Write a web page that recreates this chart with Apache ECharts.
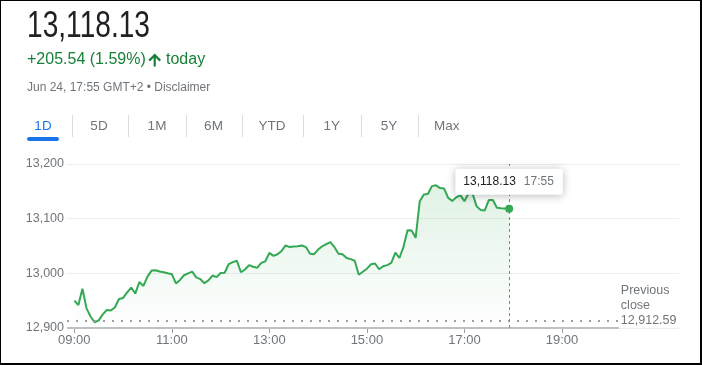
<!DOCTYPE html>
<html><head><meta charset="utf-8">
<script src="https://cdn.jsdelivr.net/npm/echarts@6/dist/echarts.min.js"></script>
<style>
html,body{margin:0;padding:0;background:#fff;}
#wrap{position:relative;width:702px;height:365px;}
#chart{position:absolute;left:0;top:0;width:702px;height:365px;}
#frame{position:absolute;left:0;top:0;width:702px;height:365px;box-sizing:border-box;border-style:solid;border-color:#000;border-width:1px 2px 2px 1px;pointer-events:none;}
</style></head><body>
<div id="wrap"><div id="chart"></div><div id="frame"></div></div>
<script>
// ---- data ----
const times = [
 '09:00','09:05','09:10','09:15','09:20','09:25','09:30','09:35','09:40','09:45','09:50','09:55',
 '10:00','10:05','10:10','10:15','10:20','10:25','10:30','10:35','10:40','10:45','10:50','10:55',
 '11:00','11:05','11:10','11:15','11:20','11:25','11:30','11:35','11:40','11:45','11:50','11:55',
 '12:00','12:05','12:10','12:15','12:20','12:25','12:30','12:35','12:40','12:45','12:50','12:55',
 '13:00','13:05','13:10','13:15','13:20','13:25','13:30','13:35','13:40','13:45','13:50','13:55',
 '14:00','14:05','14:10','14:15','14:20','14:25','14:30','14:35','14:40','14:45','14:50','14:55',
 '15:00','15:05','15:10','15:15','15:20','15:25','15:30','15:35','15:40','15:45','15:50','15:55',
 '16:00','16:05','16:10','16:15','16:20','16:25','16:30','16:35','16:40','16:45','16:50','16:55',
 '17:00','17:05','17:10','17:15','17:20','17:25','17:30','17:35','17:40','17:45','17:50','17:55'
];
const values = [
 12950,12942,12972,12936,12921,12910.5,12914,12925,12933,12932,12938,12953,
 12955,12965,12974,12963,12984,12977,12994,13005,13005.5,13003.5,13002,13000,
 12998.5,12981.5,12988,12996.5,13000,13003,12992.5,12989.5,12982,12987,12996,12993,
 13000.5,13001,13017,13020.5,13023,13002,13007,13015,13012,13010,13019,13022,
 13037.5,13032,13035,13041,13051,13048,13049,13049.5,13051,13048,13036,13035,
 13043.5,13049.5,13053.5,13057,13048,13036,13035,13028,13026,13023,12997.5,13003,
 13008.5,13016.5,13018,13007.5,13013,13015,13019,13038,13028,13048.5,13079,13078.5,
 13065,13132,13144,13145,13159.5,13161,13156,13155,13138,13132.5,13139,13143,
 13132,13146.5,13146,13122.5,13116,13115,13134,13134,13120,13119,13118.5,13118.13
];
const prevClose = 12912.59;
const yTicks = [12900, 13000, 13100, 13200];
const xTickLabels = ['09:00','11:00','13:00','15:00','17:00','19:00'];
const axisStart = '08:51', axisEnd = '20:10', gridEnd = '21:24';
const tabs = ['1D','5D','1M','6M','YTD','1Y','5Y','Max'];
const dateLine = 'Jun 24, 17:55 GMT+2 \u2022 Disclaimer';

// ---- helpers ----
const toMin = s => { const p = s.split(':'); return (+p[0]) * 60 + (+p[1]); };
const fmtTime = m => String(Math.floor(m / 60)).padStart(2, '0') + ':' + String(m % 60).padStart(2, '0');
const fmt2 = v => v.toLocaleString('en-US', {minimumFractionDigits: 2, maximumFractionDigits: 2});
const fmt0 = v => v.toLocaleString('en-US');

const lastVal = values[values.length - 1];
const lastTime = times[times.length - 1];
const change = lastVal - prevClose;
const pct = change / prevClose * 100;
const GREEN = '#34a853';
const GRAY = '#70757a';
const FONT = '"Liberation Sans", Arial, sans-serif';

const tabCenters = [43, 99, 157, 213.5, 272, 331.7, 389, 446.7];
const dividers = [72, 128, 186, 242, 303, 361, 418];

const graphics = [];
graphics.push({type:'text', x:27, y:27, scaleX:0.76, silent:true,
  style:{text: fmt2(lastVal), font:'37px ' + FONT, fill:'#202124', verticalAlign:'middle'}});
graphics.push({type:'text', x:27, y:60, silent:true,
  style:{text: '+' + fmt2(change) + ' (' + pct.toFixed(2) + '%)', font:'16px ' + FONT, fill:'#188038', verticalAlign:'middle'}});
graphics.push({type:'polygon', silent:true, shape:{points:[[154.7,53.5],[161,59.8],[159.4,61.4],[155.8,57.8],[155.8,66.5],[153.6,66.5],[153.6,57.8],[150,61.4],[148.4,59.8]]},
  style:{fill:'#188038'}});
graphics.push({type:'text', x:166, y:60, silent:true,
  style:{text:'today', font:'16px ' + FONT, fill:'#188038', verticalAlign:'middle'}});
graphics.push({type:'text', x:27, y:87.5, silent:true,
  style:{text: dateLine, font:'12px ' + FONT, fill:GRAY, verticalAlign:'middle'}});
tabs.forEach((t, i) => {
  graphics.push({type:'text', x:tabCenters[i], y:126.5, silent:true,
    style:{text:t, font:'13.5px ' + FONT, fill: i === 0 ? '#1a73e8' : GRAY, align:'center', verticalAlign:'middle'}});
});
dividers.forEach(x => {
  graphics.push({type:'line', silent:true, shape:{x1:x+0.5, y1:115, x2:x+0.5, y2:137}, style:{stroke:'#dadce0', lineWidth:1}});
});
graphics.push({type:'rect', silent:true, shape:{x:27, y:137, width:32, height:4, r:2}, style:{fill:'#1a73e8'}});

const chart = echarts.init(document.getElementById('chart'), null, {renderer:'canvas'});
chart.setOption({
  animation: false,
  graphic: graphics,
  grid: {left: 67, right: 23, top: 164, bottom: 37},
  xAxis: {
    type: 'value', min: toMin(axisStart), max: toMin(gridEnd),
    axisLine: {show: false},
    splitLine: {show: false},
    axisTick: {show: true, customValues: xTickLabels.map(toMin), length: 5, lineStyle: {color: '#9aa0a6', width: 1}},
    axisLabel: {customValues: xTickLabels.map(toMin), formatter: v => fmtTime(v), color: GRAY, fontSize: 13, fontFamily: FONT, margin: 6}
  },
  yAxis: {
    type: 'value', min: yTicks[0], max: yTicks[yTicks.length - 1], interval: 100,
    axisLine: {show: false}, axisTick: {show: false},
    splitLine: {lineStyle: {color: '#eceef0', width: 1}},
    axisLabel: {formatter: v => fmt0(v), color: GRAY, fontSize: 12.5, fontFamily: FONT, margin: 3}
  },
  series: [{
    type: 'line',
    data: times.map((t, i) => [toMin(t), values[i]]),
    symbol: 'none', showSymbol: false,
    lineStyle: {color: GREEN, width: 2},
    areaStyle: {color: new echarts.graphic.LinearGradient(0, 0, 0, 1, [
      {offset: 0, color: 'rgba(52,168,83,0.22)'},
      {offset: 1, color: 'rgba(52,168,83,0.0)'}
    ])},
    markLine: {
      silent: true, symbol: 'none', animation: false,
      data: [
        [{coord: [toMin(axisStart), yTicks[0]], lineStyle: {color: '#bdc1c6', width: 2, type: 'solid'}, label: {show: false}},
         {coord: [toMin(axisEnd), yTicks[0]]}],
        [{coord: [toMin(axisStart), prevClose], lineStyle: {color: '#9aa0a6', width: 2, type: [2, 7]}, label: {show: false}},
         {coord: [toMin(axisEnd), prevClose]}],
        {xAxis: toMin(lastTime), lineStyle: {color: '#80868b', width: 1, type: [3, 3]}, label: {show: false}}
      ]
    },
    markPoint: {
      silent: true, animation: false,
      symbol: 'circle', symbolSize: 8,
      itemStyle: {color: GREEN},
      data: [{coord: [toMin(lastTime), lastVal]}],
      label: {
        show: true, position: 'top', distance: 10,
        formatter: '{v|' + fmt2(lastVal) + '}{t|' + lastTime + '}',
        backgroundColor: '#fff', borderRadius: 3, padding: [7, 9, 7, 8],
        shadowBlur: 8, shadowColor: 'rgba(0,0,0,0.28)', shadowOffsetY: 1,
        rich: {
          v: {color: '#202124', fontSize: 12, fontFamily: FONT},
          t: {color: GRAY, fontSize: 12, fontFamily: FONT, padding: [0, 0, 0, 8]}
        }
      }
    }
  }]
});

// "Previous close" label anchored to the end of the previous-close line
const endPx = chart.convertToPixel({seriesIndex: 0}, [toMin(axisEnd), prevClose]);
graphics.push({type:'text', x: endPx[0] + 2, y: endPx[1] - 15.5, silent: true,
  style:{text: 'Previous\nclose\n' + fmt2(prevClose), font: '12.5px ' + FONT, fill: GRAY,
         lineHeight: 14.7, verticalAlign: 'middle', align: 'left'}});
chart.setOption({graphic: graphics});
</script>
</body></html>
